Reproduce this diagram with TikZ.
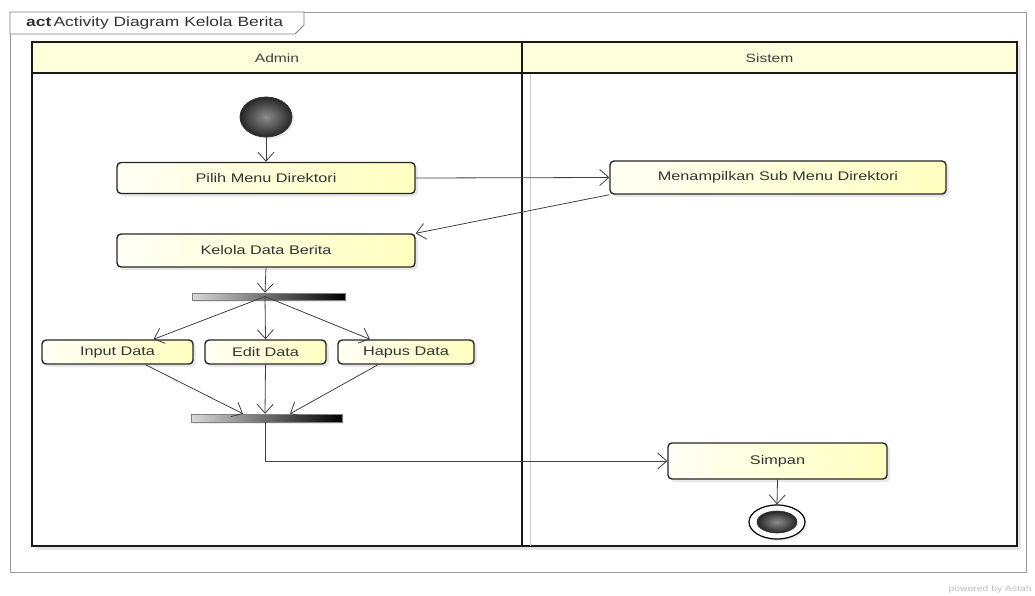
\documentclass[tikz,border=0pt]{standalone}
\usepackage{fontspec}
\setmainfont{Liberation Sans}[FakeStretch=1.3]
\usetikzlibrary{arrows.meta,shadows,calc,shapes.geometric}
\definecolor{hdr}{HTML}{FFFFDC}
\definecolor{nodel}{HTML}{FFFFF4}
\definecolor{noder}{HTML}{FFFFC0}
\definecolor{conn}{HTML}{404040}
\tikzset{
  actbox/.style={rectangle, rounded corners=4pt, draw=black!85, line width=1.4pt,
    left color=nodel, right color=noder, inner sep=0pt, text=black!80,
    font=\fontsize{12.5}{14}\selectfont,
    drop shadow={opacity=0.18, shadow xshift=3pt, shadow yshift=-3pt}},
  barnode/.style={rectangle, inner sep=0pt, left color=black!15, right color=black,
    draw=black!50, line width=0.4pt,
    drop shadow={opacity=0.15, shadow xshift=2pt, shadow yshift=-2pt}},
  flow/.style={draw=conn, line width=0.8pt, -{Straight Barb[length=9pt,width=16pt,line width=0.8pt]}},
  lanetext/.style={font=\fontsize{12}{14}\selectfont, text=black!75},
}
\begin{document}
\begin{tikzpicture}[x=1pt,y=-1pt]
\useasboundingbox (0,0) rectangle (1035,595);
\fill[white] (0,0) rectangle (1035,595);
% outer frame
\draw[black!40, line width=0.8pt] (10,12) rectangle (1026,572);
\draw[black!50, line width=0.8pt, fill=white] (10,12) -- (304,12) -- (304,25) -- (295,34) -- (10,34) -- cycle;
\node[anchor=west, inner sep=0pt, font=\fontsize{13.4}{15}\selectfont, text=black!80] (title) at (26,23) {\textbf{act}\,Activity Diagram Kelola Berita};
% swimlanes
\fill[black!10] (36,46) rectangle (1021,550);
\fill[white] (32,42) rectangle (1017,546);
\fill[hdr] (32,42) rectangle (1017,73);
\draw[black!90, line width=2pt] (32,42) rectangle (1017,546);
\draw[black!90, line width=1.6pt] (32,73) -- (1017,73);
\draw[black!90, line width=2pt] (522,42) -- (522,546);
\draw[black!20, line width=0.8pt] (530,74) -- (530,546);
\node[lanetext] (admin) at (277,58) {Admin};
\node[lanetext] (sistem) at (769.5,58) {Sistem};
% nodes
\node[ellipse, minimum width=52pt, minimum height=40pt, inner sep=0pt, draw=black!80, line width=0.8pt,
  inner color=black!45, outer color=black!85,
  drop shadow={opacity=0.15, shadow xshift=2pt, shadow yshift=-2pt}] (init) at (266,117) {};
\node[actbox, minimum width=298pt, minimum height=31pt] (pilih) at (266,178) {Pilih Menu Direktori};
\node[actbox, minimum width=336pt, minimum height=33pt] (menu) at (778,177.5) {Menampilkan Sub Menu Direktori};
\node[actbox, minimum width=298pt, minimum height=33pt] (kelola) at (266,250.5) {Kelola Data Berita};
\node[barnode, minimum width=153pt, minimum height=7pt] (fork) at (268.5,296.5) {};
\node[actbox, minimum width=151pt, minimum height=24pt] (input) at (117.5,352) {Input Data};
\node[actbox, minimum width=121pt, minimum height=24pt] (edit) at (265.5,352) {Edit Data};
\node[actbox, minimum width=136pt, minimum height=24pt] (hapus) at (406,352) {Hapus Data};
\node[barnode, minimum width=151pt, minimum height=8pt] (join) at (266.5,418) {};
\node[actbox, minimum width=219pt, minimum height=36pt] (simpan) at (777.5,461) {Simpan};
\node[ellipse, minimum width=56pt, minimum height=34pt, inner sep=0pt, draw=black, line width=1.2pt, fill=white,
  drop shadow={opacity=0.15, shadow xshift=2pt, shadow yshift=-2pt}] (final) at (777,522) {};
\node[ellipse, minimum width=40pt, minimum height=22pt, inner sep=0pt, draw=black!80, line width=0.6pt,
  inner color=black!45, outer color=black!85] (finalin) at (777,522) {};
% connectors
\draw[flow] (init) -- (pilih);
\draw[flow] (pilih.east) -- (menu.west);
\draw[flow] (menu.south west) -- (kelola.north east);
\draw[flow] (kelola.south) -- ($(fork.north)+(-3.5,0)$);
\coordinate (fk) at ($(fork.center)+(-3.5,0)$);
\draw[flow] (fk) -- ($(input.north)+(36,0)$);
\draw[flow] (fk) -- (edit.north);
\draw[flow] (fk) -- ($(hapus.north)+(-36,0)$);
\draw[flow] ($(input.south)+(28,0)$) -- ($(join.north)+(-23.5,0)$);
\draw[flow] (edit.south) -- ($(join.north)+(-1.5,0)$);
\draw[flow] ($(hapus.south)+(-28,0)$) -- ($(join.north)+(23.5,0)$);
\coordinate (jn) at ($(join.south)+(-1.5,0)$);
\draw[flow] (jn) |- (simpan.west);
\draw[flow] (simpan.south) -- (final.north);
% watermark
\node[anchor=east, inner sep=0pt, font=\fontsize{8}{10}\selectfont, text=black!25] (wm) at (1032,589) {powered by Astah};
\end{tikzpicture}
\end{document}
